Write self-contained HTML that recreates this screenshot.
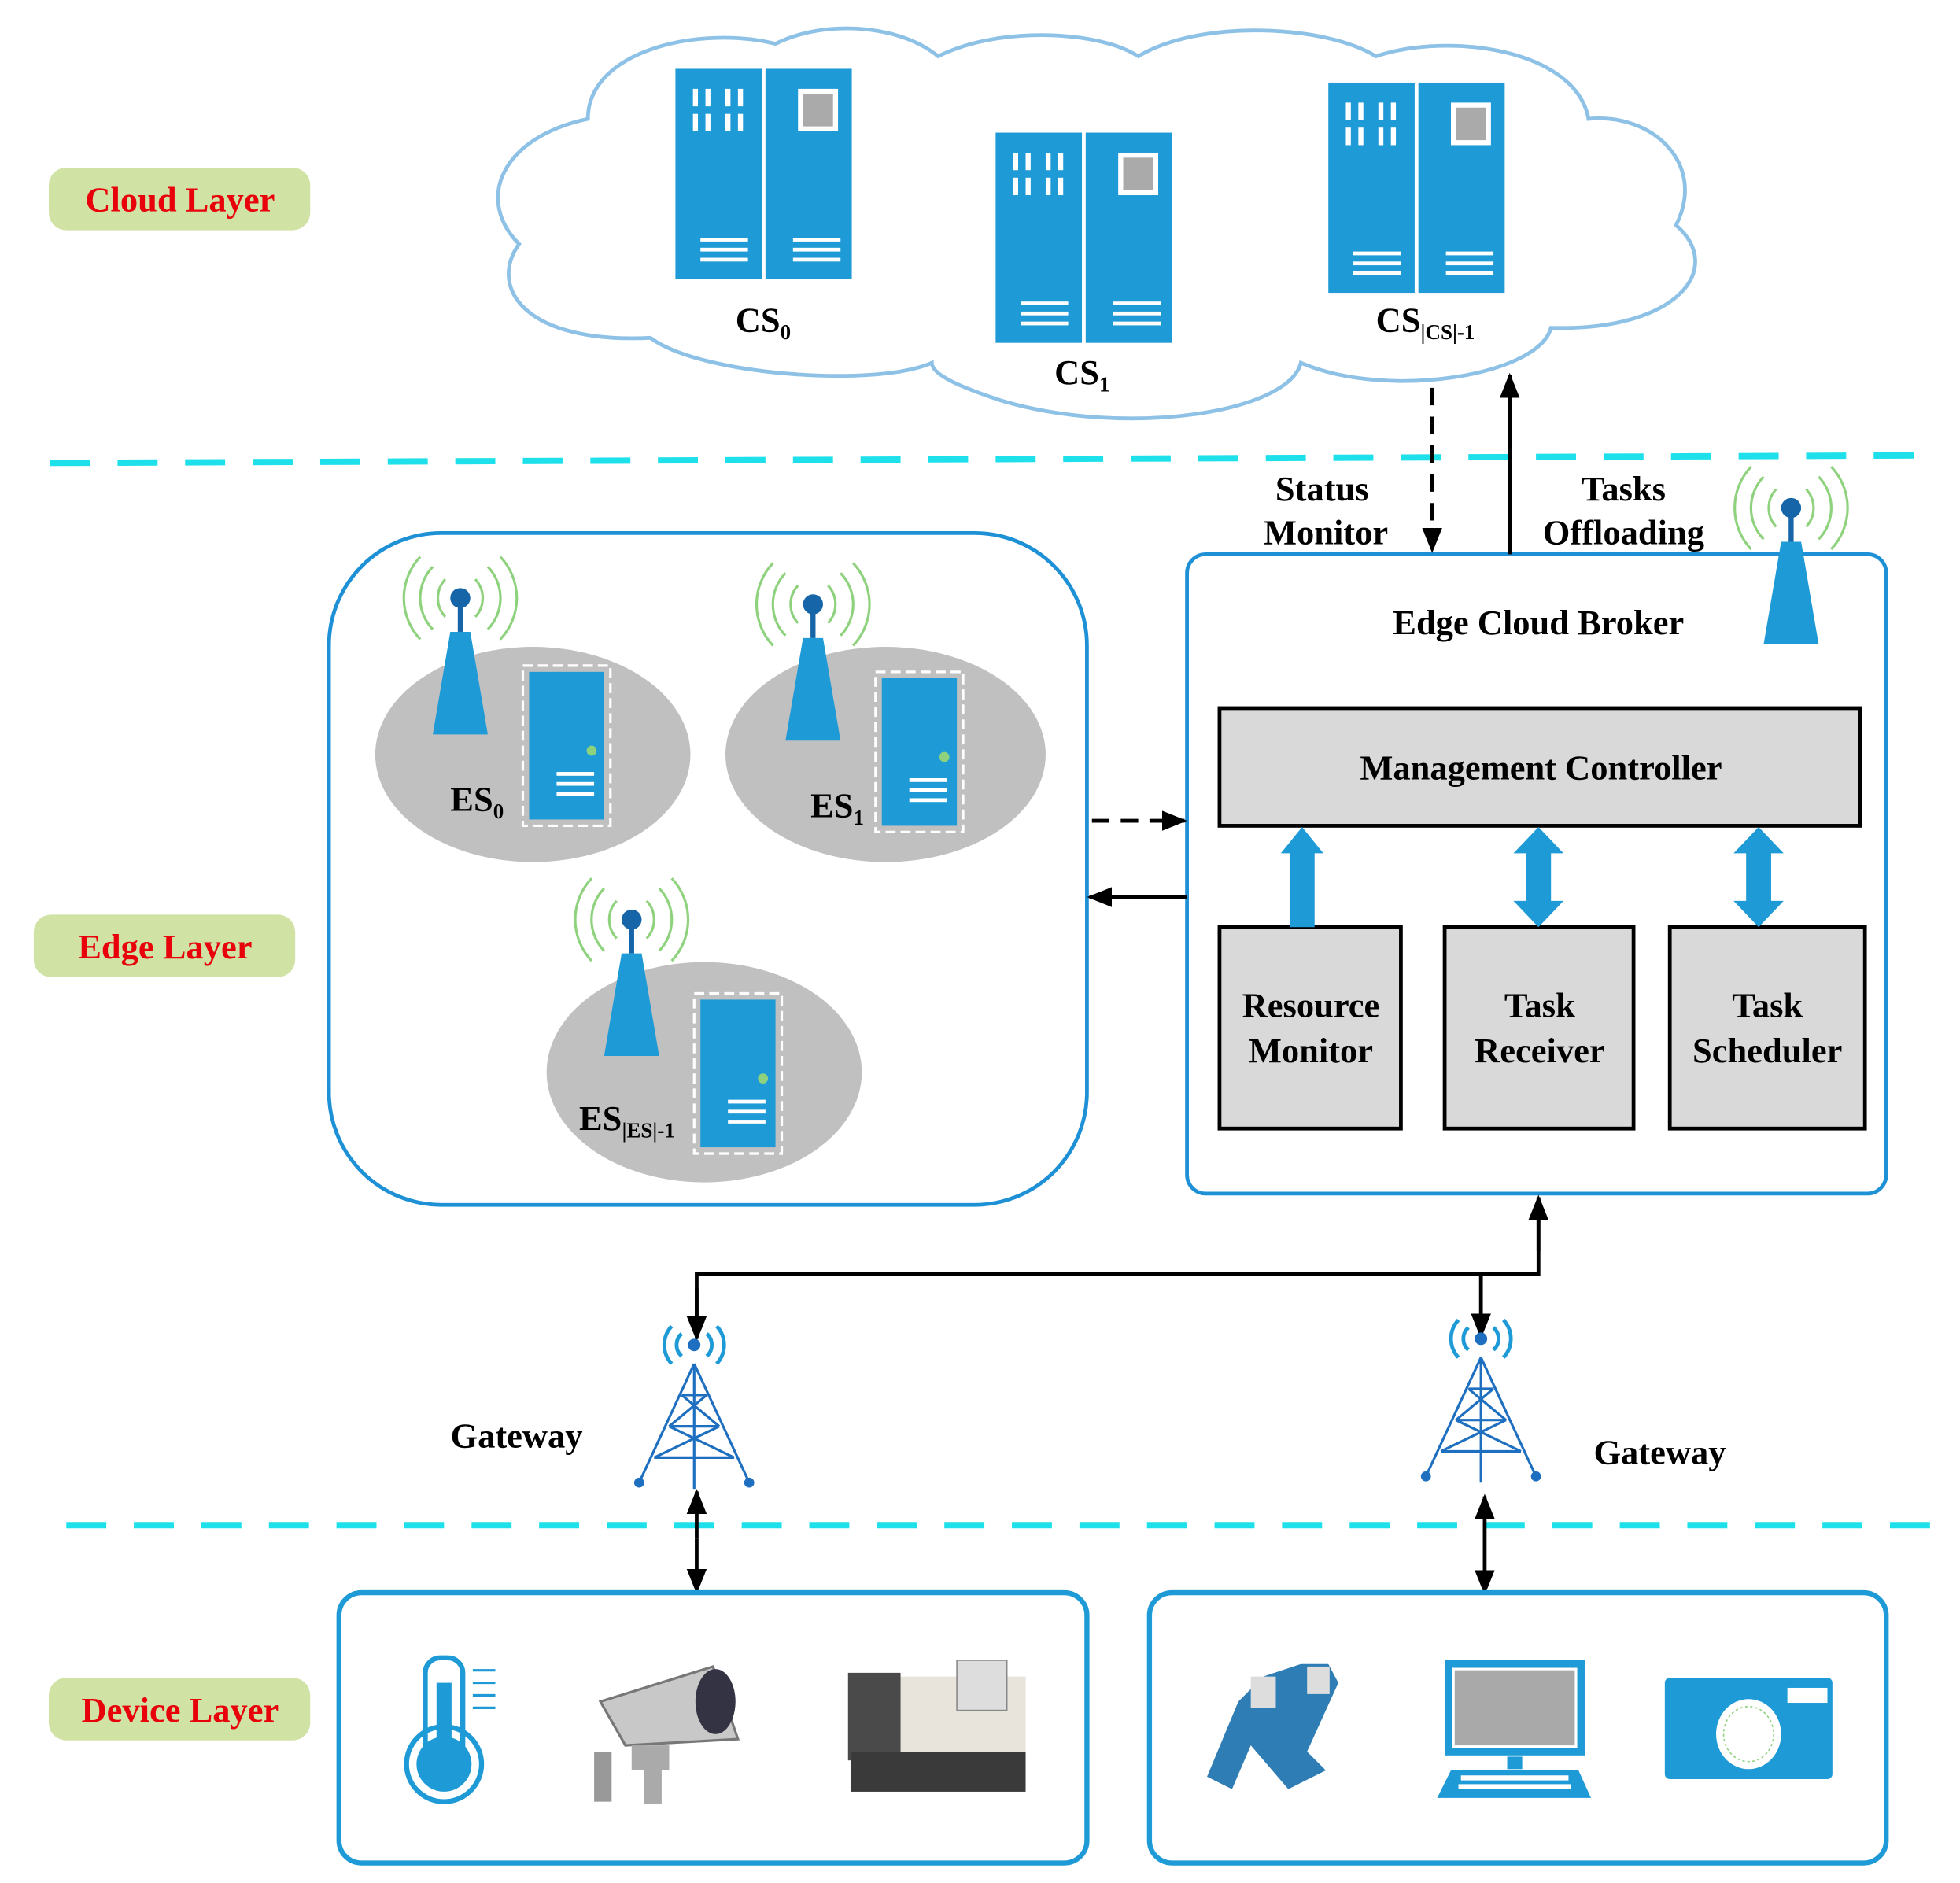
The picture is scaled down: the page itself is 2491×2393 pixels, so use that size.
<!DOCTYPE html>
<html><head><meta charset="utf-8"><style>html,body{margin:0;padding:0;background:#fff}svg{display:block}</style></head>
<body>
<svg width="2491" height="2393" viewBox="0 0 1567 1505" preserveAspectRatio="none" xmlns="http://www.w3.org/2000/svg" font-family="Liberation Serif, serif" font-weight="bold">
<defs>
<marker id="ah2" markerWidth="20" markerHeight="20" refX="18" refY="10" orient="auto" markerUnits="userSpaceOnUse" viewBox="0 0 20 20"><path d="M0,2 L20,10 L0,18z" fill="#000"/></marker>
<g id="rack">
<rect x="0" y="0" width="69" height="168" fill="#1e9ad6"/><rect x="72" y="0" width="69" height="168" fill="#1e9ad6"/>
<g fill="#fff"><rect x="14" y="16" width="4" height="14"/><rect x="24" y="16" width="4" height="14"/><rect x="40" y="16" width="4" height="14"/><rect x="50" y="16" width="4" height="14"/>
<rect x="14" y="36" width="4" height="14"/><rect x="24" y="36" width="4" height="14"/><rect x="40" y="36" width="4" height="14"/><rect x="50" y="36" width="4" height="14"/>
<rect x="20" y="135" width="38" height="3"/><rect x="20" y="143" width="38" height="3"/><rect x="20" y="151" width="38" height="3"/>
<rect x="94" y="135" width="38" height="3"/><rect x="94" y="143" width="38" height="3"/><rect x="94" y="151" width="38" height="3"/>
<rect x="98" y="16" width="32" height="34"/></g>
<g fill="#aaa"><rect x="102" y="20" width="24" height="26"/></g>
</g>
<g id="ant">
<path d="M-12,-22 a22,22 0 0,0 0,30 M12,-22 a22,22 0 0,1 0,30 M-22,-32 a36,36 0 0,0 0,50 M22,-32 a36,36 0 0,1 0,50 M-32,-40 a48,48 0 0,0 0,66 M32,-40 a48,48 0 0,1 0,66" stroke="#8fd27e" stroke-width="2" fill="none"/>
<circle cx="0" cy="-7" r="8" fill="#1565a8"/><rect x="-2" y="-4" width="4" height="24" fill="#1565a8"/>
<path d="M-8,20 L8,20 L22,102 L-22,102z" fill="#1e9ad6"/>
</g>
<g id="es">
<rect x="0" y="0" width="70" height="128" fill="none" stroke="#fff" stroke-width="2" stroke-dasharray="8,4"/>
<rect x="5" y="5" width="60" height="118" fill="#1e9ad6"/>
<circle cx="55" cy="68" r="4" fill="#8fd27e"/>
<g fill="#fff"><rect x="27" y="85" width="30" height="3"/><rect x="27" y="93" width="30" height="3"/><rect x="27" y="101" width="30" height="3"/></g>
</g>
<g id="tower" stroke="#1e6fc0" stroke-width="2" fill="none">
<path d="M0,0 L-44,95 M0,0 L44,95 M0,0 L0,100 M-10,25 L10,25 M-20,50 L20,50 M-32,75 L32,75 M-10,25 L20,50 M10,25 L-20,50 M-20,50 L32,75 M20,50 L-32,75"/>
<circle cx="-44" cy="95" r="3" fill="#1e6fc0"/><circle cx="44" cy="95" r="3" fill="#1e6fc0"/>
<path d="M-10,-6 a12,12 0 0,1 0,-18 M10,-6 a12,12 0 0,0 0,-18 M-18,0 a22,22 0 0,1 0,-30 M18,0 a22,22 0 0,0 0,-30" stroke="#1e9ad6" stroke-width="3"/>
<circle cx="0" cy="-15" r="4" fill="#1e6fc0"/>
</g>
</defs>

<path d="M470,95 C470,40 560,20 620,35 C660,15 720,20 750,45 C800,20 880,25 910,45 C960,15 1060,20 1100,45 C1160,25 1260,40 1270,95 C1320,90 1365,130 1340,180 C1380,215 1340,265 1240,262 C1230,300 1110,320 1040,290 C1030,330 900,350 800,320 C770,310 745,300 745,290 C700,310 560,300 520,270 C420,275 390,230 415,195 C380,160 400,110 470,95Z" fill="#fff" stroke="#8ec1e6" stroke-width="3"/>
<use href="#rack" x="540" y="55"/><use href="#rack" x="796" y="106"/><use href="#rack" x="1062" y="66"/>
<text x="588" y="265" font-size="28">CS<tspan font-size="17" dy="6">0</tspan></text>
<text x="843" y="307" font-size="28">CS<tspan font-size="17" dy="6">1</tspan></text>
<text x="1100" y="265" font-size="28">CS<tspan font-size="17" dy="6">|CS|-1</tspan></text>

<line x1="40" y1="370" x2="1535" y2="364" stroke="#1ee0ea" stroke-width="5" stroke-dasharray="32,22"/>
<line x1="53" y1="1219" x2="1545" y2="1219" stroke="#1ee0ea" stroke-width="5" stroke-dasharray="32,22"/>

<rect x="39" y="134" width="209" height="50" rx="14" fill="#d0e2a4"/>
<text x="144" y="169" font-size="28" fill="#e8000b" text-anchor="middle">Cloud Layer</text>
<rect x="27" y="731" width="209" height="50" rx="14" fill="#d0e2a4"/>
<text x="132" y="766" font-size="28" fill="#e8000b" text-anchor="middle">Edge Layer</text>
<rect x="39" y="1341" width="209" height="50" rx="14" fill="#d0e2a4"/>
<text x="144" y="1376" font-size="28" fill="#e8000b" text-anchor="middle">Device Layer</text>

<rect x="263" y="426" width="606" height="537" rx="90" fill="#fff" stroke="#1e90d6" stroke-width="3"/>
<ellipse cx="426" cy="603" rx="126" ry="86" fill="#c0c0c0"/>
<ellipse cx="708" cy="603" rx="128" ry="86" fill="#c0c0c0"/>
<ellipse cx="563" cy="857" rx="126" ry="88" fill="#c0c0c0"/>
<use href="#ant" x="368" y="485"/><use href="#ant" x="650" y="490"/><use href="#ant" x="505" y="742"/>
<use href="#es" x="418" y="532"/><use href="#es" x="700" y="537"/><use href="#es" x="555" y="794"/>
<text x="360" y="648" font-size="28">ES<tspan font-size="17" dy="6">0</tspan></text>
<text x="648" y="653" font-size="28">ES<tspan font-size="17" dy="6">1</tspan></text>
<text x="463" y="903" font-size="28">ES<tspan font-size="17" dy="6">|ES|-1</tspan></text>

<rect x="949" y="443" width="559" height="511" rx="15" fill="#fff" stroke="#1e90d6" stroke-width="3"/>
<use href="#ant" x="1432" y="413"/>
<text x="1230" y="507" font-size="28" text-anchor="middle">Edge Cloud Broker</text>
<rect x="975" y="566" width="512" height="94" fill="#d9d9d9" stroke="#000" stroke-width="3"/>
<text x="1232" y="623" font-size="28" text-anchor="middle">Management Controller</text>
<rect x="975" y="741" width="145" height="161" fill="#d9d9d9" stroke="#000" stroke-width="3"/>
<rect x="1155" y="741" width="151" height="161" fill="#d9d9d9" stroke="#000" stroke-width="3"/>
<rect x="1335" y="741" width="156" height="161" fill="#d9d9d9" stroke="#000" stroke-width="3"/>
<g font-size="28" text-anchor="middle">
<text x="1048" y="813">Resource</text><text x="1048" y="849">Monitor</text>
<text x="1231" y="813">Task</text><text x="1231" y="849">Receiver</text>
<text x="1413" y="813">Task</text><text x="1413" y="849">Scheduler</text>
</g>
<path d="M1031,741 L1031,682 L1024,682 L1041,661 L1058,682 L1051,682 L1051,741z" fill="#1e9ad6"/>
<path d="M1220,720 L1220,682 L1210,682 L1230,661 L1250,682 L1240,682 L1240,720 L1250,720 L1230,741 L1210,720z" fill="#1e9ad6"/>
<path d="M1396,720 L1396,682 L1386,682 L1406,661 L1426,682 L1416,682 L1416,720 L1426,720 L1406,741 L1386,720z" fill="#1e9ad6"/>

<g stroke="#000" stroke-width="3" fill="none">
<line x1="873" y1="656" x2="947" y2="656" stroke-dasharray="14,9" marker-end="url(#ah2)"/>
<line x1="949" y1="717" x2="871" y2="717" marker-end="url(#ah2)"/>
<line x1="1145" y1="310" x2="1145" y2="440" stroke-dasharray="14,9" marker-end="url(#ah2)"/>
<line x1="1207" y1="443" x2="1207" y2="300" marker-end="url(#ah2)"/>
<polyline points="557,1068 557,1018 1230,1018 1230,957" />
<line x1="1230" y1="1000" x2="1230" y2="957" marker-end="url(#ah2)"/>
<line x1="557" y1="1030" x2="557" y2="1070" marker-end="url(#ah2)"/>
<line x1="1184" y1="1018" x2="1184" y2="1068" marker-end="url(#ah2)"/>
<line x1="557" y1="1230" x2="557" y2="1192" marker-end="url(#ah2)"/>
<line x1="557" y1="1230" x2="557" y2="1272" marker-end="url(#ah2)"/>
<line x1="1187" y1="1235" x2="1187" y2="1196" marker-end="url(#ah2)"/>
<line x1="1187" y1="1235" x2="1187" y2="1273" marker-end="url(#ah2)"/>
</g>
<g font-size="28" text-anchor="middle">
<text x="1057" y="400">Status</text><text x="1060" y="435">Monitor</text>
<text x="1298" y="400">Tasks</text><text x="1298" y="435">Offloading</text>
<text x="413" y="1157">Gateway</text><text x="1327" y="1170">Gateway</text>
</g>
<use href="#tower" x="555" y="1090"/><use href="#tower" x="1184" y="1085"/>

<rect x="271" y="1273" width="598" height="216" rx="18" fill="none" stroke="#1e9ad6" stroke-width="4"/>
<rect x="919" y="1273" width="589" height="216" rx="18" fill="none" stroke="#1e9ad6" stroke-width="4"/>
<rect x="340" y="1325" width="30" height="85" rx="12" fill="none" stroke="#1e9ad6" stroke-width="4"/>
<rect x="349" y="1345" width="12" height="70" fill="#1e9ad6"/>
<circle cx="355" cy="1410" r="30" fill="none" stroke="#1e9ad6" stroke-width="4"/><circle cx="355" cy="1410" r="22" fill="#1e9ad6"/>
<g stroke="#1e9ad6" stroke-width="2"><line x1="378" y1="1335" x2="396" y2="1335"/><line x1="378" y1="1345" x2="396" y2="1345"/><line x1="378" y1="1355" x2="396" y2="1355"/><line x1="378" y1="1365" x2="396" y2="1365"/></g>
<path d="M480,1360 L570,1332 L590,1390 L500,1395z" fill="#c8c8c8" stroke="#777" stroke-width="2"/>
<ellipse cx="572" cy="1360" rx="16" ry="26" fill="#334"/>
<rect x="505" y="1395" width="30" height="20" fill="#aaa"/><rect x="475" y="1400" width="14" height="40" fill="#999"/><rect x="515" y="1412" width="14" height="30" fill="#aaa"/>
<rect x="680" y="1340" width="140" height="65" fill="#e8e4dc"/><rect x="678" y="1337" width="42" height="70" fill="#4a4a4a"/>
<rect x="680" y="1400" width="140" height="32" fill="#3a3a3a"/><rect x="765" y="1327" width="40" height="40" fill="#ddd" stroke="#888"/>
<path d="M965,1420 L990,1360 L1010,1340 L1040,1330 L1062,1330 L1070,1345 L1045,1400 L1060,1415 L1030,1430 L1000,1395 L985,1430z" fill="#2e7db5"/>
<rect x="1000" y="1340" width="20" height="25" fill="#ddd"/><rect x="1045" y="1332" width="18" height="22" fill="#ddd"/>
<rect x="1155" y="1327" width="112" height="76" fill="#1e9ad6"/><rect x="1162" y="1334" width="98" height="62" fill="#a9a9a9" stroke="#fff" stroke-width="2"/>
<rect x="1205" y="1404" width="12" height="10" fill="#1e9ad6"/>
<path d="M1160,1415 L1262,1415 L1272,1437 L1149,1437z" fill="#1e9ad6"/>
<g fill="#fff"><rect x="1168" y="1419" width="86" height="4"/><rect x="1166" y="1426" width="90" height="4"/></g>
<rect x="1331" y="1341" width="134" height="81" rx="4" fill="#1e9ad6"/>
<rect x="1429" y="1349" width="32" height="12" fill="#fff"/>
<ellipse cx="1398" cy="1386" rx="26" ry="28" fill="#fff"/>
<ellipse cx="1398" cy="1386" rx="20" ry="22" fill="none" stroke="#8fd27e" stroke-width="1" stroke-dasharray="2,2"/>
</svg>
</body></html>
